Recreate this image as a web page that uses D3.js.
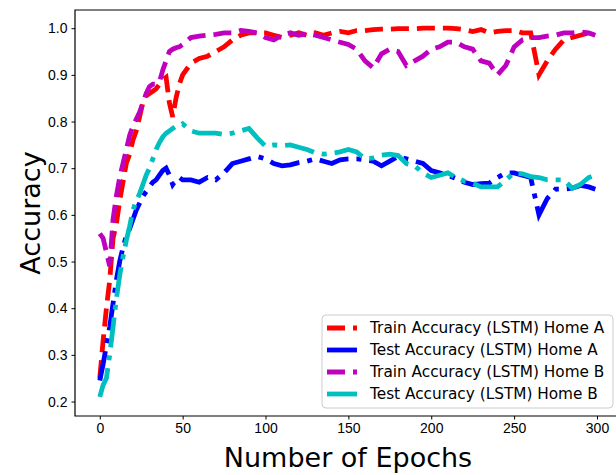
<!DOCTYPE html>
<html>
<head>
<meta charset="utf-8">
<script src="https://cdn.jsdelivr.net/npm/d3@7"></script>
<style>
  body { margin: 0; background: #fff; }
  svg { display: block; font-family: "DejaVu Sans", sans-serif; }
  .axis text { font-size: 14px; fill: #000; }
  .axis path, .axis line { stroke: #000; stroke-width: 1; }
</style>
</head>
<body>
<svg id="chart" width="616" height="475"></svg>
<script>
// epochs
var epochs = [0,2,4,6,8,10,12,14,16,18,20,22,24,26,28,30,32,34,36,38,40,42,44,46,48,50,
  55,60,65,70,75,80,85,90,95,100,105,110,115,120,125,130,135,140,145,150,155,160,165,170,
  175,180,185,190,195,200,205,210,215,220,225,230,235,240,245,250,255,260,265,270,275,280,
  285,290,295,299];

var trainA = [0.25,0.33,0.40,0.46,0.55,0.58,0.63,0.67,0.71,0.73,0.76,0.78,0.81,0.84,0.855,0.86,0.865,0.87,0.88,0.89,0.895,0.84,0.81,0.85,0.88,0.90,
  0.925,0.935,0.94,0.95,0.96,0.975,0.985,0.99,0.99,0.99,0.985,0.98,0.985,0.99,0.985,0.99,0.985,0.99,0.993,0.99,0.995,0.995,0.997,0.998,
  0.998,0.999,0.999,0.999,1.0,1.0,1.0,1.0,0.999,0.997,0.993,0.997,0.99,0.993,0.995,0.995,0.99,0.99,0.90,0.93,0.955,0.975,
  0.98,0.985,0.99,0.99];

var testA = [0.245,0.28,0.32,0.36,0.41,0.46,0.50,0.53,0.555,0.57,0.59,0.61,0.625,0.64,0.65,0.66,0.67,0.675,0.685,0.695,0.70,0.685,0.665,0.675,0.68,0.675,
  0.675,0.67,0.68,0.675,0.69,0.71,0.715,0.72,0.725,0.72,0.71,0.705,0.707,0.712,0.715,0.72,0.715,0.71,0.718,0.72,0.72,0.718,0.715,0.705,
  0.715,0.725,0.72,0.715,0.71,0.695,0.69,0.685,0.678,0.67,0.665,0.667,0.668,0.68,0.69,0.69,0.685,0.68,0.60,0.635,0.655,0.655,
  0.657,0.663,0.66,0.655];

var trainB = [0.56,0.55,0.52,0.49,0.59,0.64,0.68,0.71,0.74,0.77,0.79,0.805,0.82,0.84,0.86,0.875,0.88,0.88,0.885,0.91,0.93,0.95,0.955,0.958,0.96,0.965,
  0.98,0.983,0.985,0.987,0.99,0.99,0.995,0.993,0.99,0.98,0.975,0.985,0.99,0.985,0.988,0.985,0.98,0.975,0.97,0.965,0.955,0.93,0.915,0.945,
  0.955,0.95,0.92,0.93,0.94,0.955,0.96,0.97,0.97,0.96,0.955,0.93,0.925,0.90,0.92,0.96,0.975,0.98,0.98,0.983,0.985,0.99,
  0.99,0.992,0.99,0.985];

var testB = [0.21,0.235,0.25,0.30,0.36,0.42,0.47,0.51,0.545,0.575,0.61,0.63,0.645,0.665,0.685,0.70,0.72,0.74,0.755,0.767,0.775,0.78,0.785,0.79,0.79,0.795,
  0.78,0.775,0.775,0.775,0.772,0.775,0.78,0.785,0.765,0.747,0.75,0.748,0.75,0.745,0.74,0.733,0.73,0.732,0.735,0.74,0.735,0.72,0.722,0.728,
  0.73,0.727,0.71,0.705,0.69,0.68,0.685,0.69,0.68,0.672,0.668,0.66,0.66,0.66,0.675,0.69,0.688,0.682,0.68,0.675,0.675,0.675,
  0.657,0.665,0.68,0.685];

var labels = ["Train Accuracy (LSTM) Home A", "Test Accuracy (LSTM) Home A",
  "Train Accuracy (LSTM) Home B", "Test Accuracy (LSTM) Home B"];
var xTicks = [0, 50, 100, 150, 200, 250, 300];
var yTicks = [0.2, 0.3, 0.4, 0.5, 0.6, 0.7, 0.8, 0.9, 1.0];

var series = [
  {name: labels[0], values: trainA, color: "#ff0000", dash: "18,8"},
  {name: labels[1], values: testA, color: "#0000ff", dash: "30,8,5,8"},
  {name: labels[2], values: trainB, color: "#bf00bf", dash: "18,8"},
  {name: labels[3], values: testB, color: "#00bfbf", dash: "30,8,5,8"}
];

var svg = d3.select("#chart");
var plotLeft = 75, plotTop = 10, plotBottom = 416, plotRight = 620.1;

var x = d3.scaleLinear().domain([-14.95, 313.95]).range([plotLeft, plotRight]);
var y = d3.scaleLinear().domain([0.169, 1.039]).range([plotBottom, plotTop]);

svg.append("rect").attr("width", 616).attr("height", 475).attr("fill", "#fff");

svg.append("clipPath").attr("id", "clip")
  .append("rect").attr("x", plotLeft).attr("y", plotTop)
  .attr("width", plotRight - plotLeft).attr("height", plotBottom - plotTop);

var line = d3.line()
  .x(function(d, i) { return x(epochs[i]); })
  .y(function(d) { return y(d); });

svg.append("g").attr("clip-path", "url(#clip)")
  .selectAll("path")
  .data(series)
  .enter().append("path")
    .attr("d", function(s) { return line(s.values); })
    .attr("fill", "none")
    .attr("stroke", function(s) { return s.color; })
    .attr("stroke-width", 4.8)
    .attr("stroke-dasharray", function(s) { return s.dash; });

// axes
svg.append("g")
  .attr("class", "axis")
  .attr("transform", "translate(0," + plotBottom + ")")
  .call(d3.axisBottom(x).tickValues(xTicks).tickSizeOuter(0).tickSize(3.5).tickPadding(4))
  .call(function(g) { g.select(".domain").remove(); });

svg.append("g")
  .attr("class", "axis")
  .attr("transform", "translate(" + plotLeft + ",0)")
  .call(d3.axisLeft(y).tickValues(yTicks).tickFormat(d3.format(".1f")).tickSizeOuter(0).tickSize(3.5).tickPadding(4))
  .call(function(g) { g.select(".domain").remove(); });

// spines
svg.append("path")
  .attr("d", "M616," + plotTop + "H" + plotLeft + "V" + plotBottom + "H616")
  .attr("fill", "none").attr("stroke", "#000").attr("stroke-width", 1.2);

svg.append("text")
  .attr("x", 348).attr("y", 467)
  .attr("text-anchor", "middle")
  .style("font-size", "27px")
  .text("Number of Epochs");

svg.append("text")
  .attr("transform", "translate(31,213) rotate(-90)")
  .attr("text-anchor", "middle")
  .attr("dy", "0.35em")
  .style("font-size", "27px")
  .text("Accuracy");

// legend
var legend = svg.append("g");
legend.append("rect")
  .attr("x", 322).attr("y", 315).attr("width", 291).attr("height", 93)
  .attr("rx", 4).attr("fill", "#fff").attr("fill-opacity", 0.8)
  .attr("stroke", "#cccccc").attr("stroke-width", 1);

var rows = legend.selectAll("g.row")
  .data(series)
  .enter().append("g")
    .attr("class", "row")
    .attr("transform", function(d, i) { return "translate(0," + (328 + i * 22) + ")"; });

rows.append("line")
  .attr("x1", 327).attr("x2", 357)
  .attr("stroke", function(s) { return s.color; })
  .attr("stroke-width", 4.8)
  .attr("stroke-dasharray", function(s) { return s.dash; });

rows.append("text")
  .attr("x", 370).attr("dy", "0.35em")
  .style("font-size", "15.3px")
  .text(function(s) { return s.name; });
</script>
</body>
</html>
